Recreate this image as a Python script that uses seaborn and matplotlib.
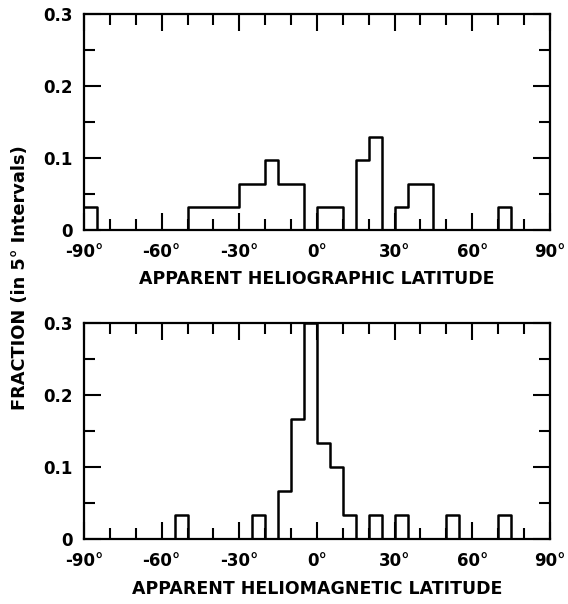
import numpy as np
import pandas as pd
import matplotlib
matplotlib.use("Agg")
import matplotlib.pyplot as plt
from matplotlib.ticker import MultipleLocator, FixedLocator
import seaborn as sns

# 5-degree latitude bins (left edges) with non-zero fraction of events
helio_bins = [-90, -50, -45, -40, -35, -30, -25, -20, -15, -10, 0, 5, 15, 20, 30, 35, 40, 70]
helio_frac = [1/31, 1/31, 1/31, 1/31, 1/31, 2/31, 2/31, 3/31, 2/31, 2/31,
              1/31, 1/31, 3/31, 4/31, 1/31, 2/31, 2/31, 1/31]

mag_bins = [-55, -25, -15, -10, -5, 0, 5, 10, 20, 30, 50, 70]
mag_frac = [1/30, 1/30, 2/30, 5/30, 9/30, 4/30, 3/30, 1/30, 1/30, 1/30, 1/30, 1/30]

xtick_vals = [-90, -60, -30, 0, 30, 60, 90]
xtick_labels = ["-90°", "-60°", "-30°", "0°", "30°", "60°", "90°"]
ytick_vals = [0, 0.1, 0.2, 0.3]
ytick_labels = ["0", "0.1", "0.2", "0.3"]

sns.set_theme(style="ticks")
plt.rcParams["font.family"] = ["DejaVu Sans"]
plt.rcParams["font.weight"] = "bold"
plt.rcParams["text.color"] = "black"
plt.rcParams["xtick.labelcolor"] = "black"
plt.rcParams["ytick.labelcolor"] = "black"

fig = plt.figure(figsize=(5.68, 6.04), dpi=100)
ax1 = fig.add_axes([0.148, 0.619, 0.820, 0.3576])
ax2 = fig.add_axes([0.148, 0.107, 0.820, 0.3586])

panels = [
    (ax1, helio_bins, helio_frac, "APPARENT HELIOGRAPHIC LATITUDE"),
    (ax2, mag_bins, mag_frac, "APPARENT HELIOMAGNETIC LATITUDE"),
]

for ax, bins, frac, label in panels:
    df = pd.DataFrame({"lat": np.array(bins, dtype=float) + 2.5, "frac": frac})
    sns.histplot(data=df, x="lat", weights="frac", binwidth=5, binrange=(-90, 90),
                 element="step", fill=False, color="black", linewidth=1.8, ax=ax)
    ax.set_xlim(-90, 90)
    ax.set_ylim(0, 0.3)
    ax.xaxis.set_major_locator(FixedLocator(xtick_vals))
    ax.set_xticklabels(xtick_labels)
    ax.xaxis.set_minor_locator(MultipleLocator(10))
    ax.set_yticks(ytick_vals)
    ax.set_yticklabels(ytick_labels)
    ax.yaxis.set_minor_locator(MultipleLocator(0.05))
    ax.tick_params(which="both", direction="in", top=True, right=True,
                   color="black", width=1.5)
    ax.tick_params(which="major", length=12, labelsize=12)
    ax.tick_params(axis="x", which="major", pad=9)
    ax.tick_params(axis="y", which="major", pad=8)
    for lab in ax.get_xticklabels() + ax.get_yticklabels():
        lab.set_fontweight("bold")
        lab.set_color("black")
    for sp in ax.spines.values():
        sp.set_visible(True)
        sp.set_color("black")
        sp.set_linewidth(1.6)
    ax.tick_params(which="minor", length=8)
    ax.set_ylabel("")
    ax.set_xlabel(label, fontsize=12.5, fontweight="bold", color="black", labelpad=7)
    ax.set_facecolor("white")

fig.text(0.035, 0.541, "FRACTION (in 5° Intervals)", rotation=90,
         ha="center", va="center", fontsize=12.8, fontweight="bold", color="black")

fig.savefig("out.png", dpi=100, facecolor="white")
